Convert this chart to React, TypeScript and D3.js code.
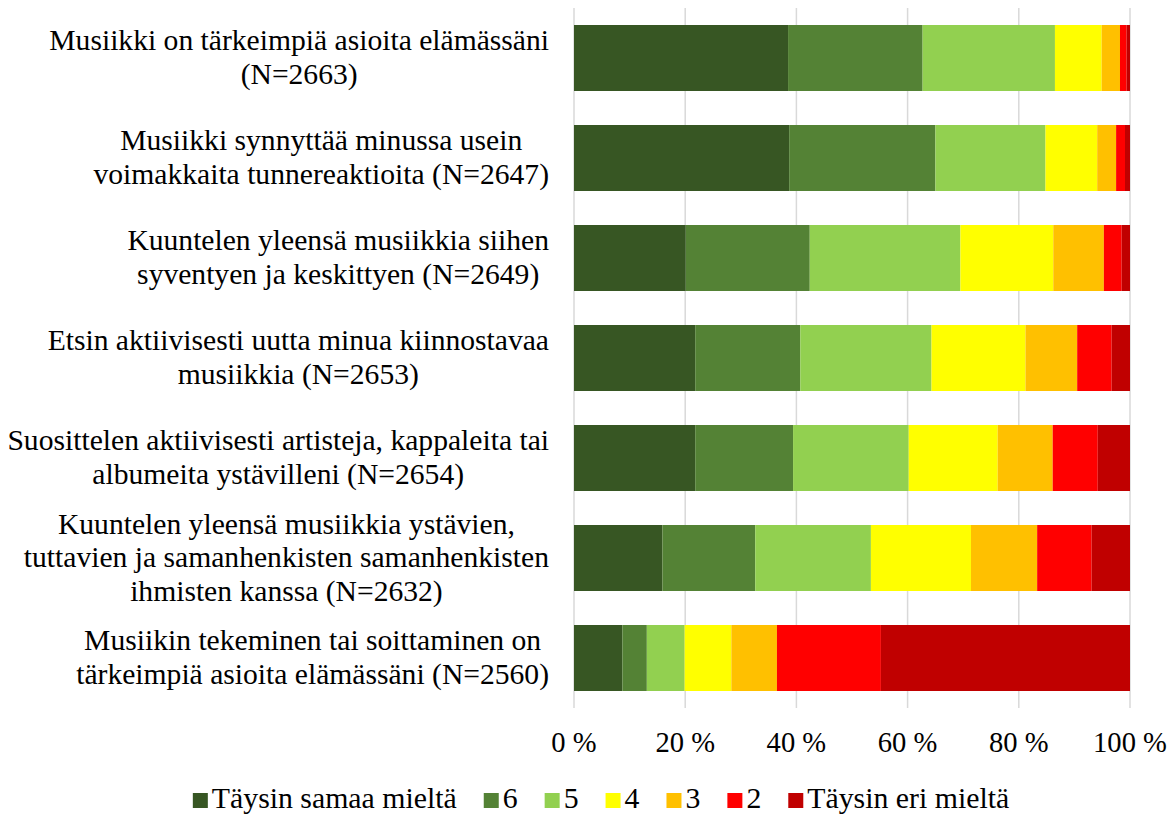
import React, { useEffect, useRef } from "react";
import * as d3 from "d3";

const categoryLines: string[][] = [
  ["Musiikki on tärkeimpiä asioita elämässäni", "(N=2663)"],
  ["Musiikki synnyttää minussa usein", "voimakkaita tunnereaktioita (N=2647)"],
  ["Kuuntelen yleensä musiikkia siihen", "syventyen ja keskittyen (N=2649)"],
  ["Etsin aktiivisesti uutta minua kiinnostavaa", "musiikkia (N=2653)"],
  ["Suosittelen aktiivisesti artisteja, kappaleita tai", "albumeita ystävilleni (N=2654)"],
  ["Kuuntelen yleensä musiikkia ystävien,", "tuttavien ja samanhenkisten samanhenkisten", "ihmisten kanssa (N=2632)"],
  ["Musiikin tekeminen tai soittaminen on", "tärkeimpiä asioita elämässäni (N=2560)"],
];

const seriesNames = ["Täysin samaa mieltä", "6", "5", "4", "3", "2", "Täysin eri mieltä"];
const seriesColors = ["#375623", "#548235", "#92D050", "#FFFF00", "#FFC000", "#FF0000", "#C00000"];

const taysinSamaa = [38.5, 38.7, 20.1, 21.8, 21.8, 15.9, 8.7];
const six = [24.2, 26.3, 22.3, 18.9, 17.6, 16.7, 4.4];
const five = [23.8, 19.8, 27.1, 23.6, 20.8, 20.8, 6.8];
const four = [8.4, 9.3, 16.7, 16.9, 16.0, 18.0, 8.4];
const three = [3.3, 3.4, 9.1, 9.3, 9.9, 11.9, 8.2];
const two = [1.2, 1.6, 3.2, 6.2, 8.1, 9.8, 18.7];
const taysinEri = [0.6, 0.9, 1.5, 3.3, 5.8, 6.9, 44.8];

const tickValues = [0, 20, 40, 60, 80, 100];
const tickLabels = ["0 %", "20 %", "40 %", "60 %", "80 %", "100 %"];

const FONT = '"Liberation Serif", "Times New Roman", serif';

export default function App() {
  const ref = useRef<SVGSVGElement | null>(null);

  useEffect(() => {
    const svg = d3.select(ref.current);
    svg.selectAll("*").remove();

    const seriesData = [taysinSamaa, six, five, four, three, two, taysinEri];
    const rows = categoryLines.map((_, i) => {
      const r: any = { idx: i };
      seriesNames.forEach((n, s) => (r[n] = seriesData[s][i]));
      return r;
    });
    const stacked = d3.stack<any>().keys(seriesNames).offset(d3.stackOffsetExpand)(rows);

    const x = d3.scaleLinear().domain([0, 1]).range([574, 1130]);
    const y = d3
      .scaleBand<number>()
      .domain(categoryLines.map((_, i) => i))
      .range([8, 708])
      .paddingInner(0.34)
      .paddingOuter(0.17);

    svg
      .append("g")
      .selectAll("line")
      .data(tickValues)
      .join("line")
      .attr("x1", (d) => x(d / 100))
      .attr("x2", (d) => x(d / 100))
      .attr("y1", 8)
      .attr("y2", 708)
      .attr("stroke", "#d9d9d9")
      .attr("stroke-width", 1.5);

    const g = svg.append("g");
    stacked.forEach((layer, s) => {
      g.append("g")
        .attr("fill", seriesColors[s])
        .selectAll("rect")
        .data(layer)
        .join("rect")
        .attr("x", (d) => x(d[0]))
        .attr("width", (d) => Math.max(0, x(d[1]) - x(d[0])))
        .attr("y", (d: any) => y(d.data.idx) as number)
        .attr("height", y.bandwidth());
    });

    const labelSize = 29.6;
    const lineH = 33.5;
    const lg = svg
      .append("g")
      .style("font-family", FONT)
      .style("font-size", labelSize + "px")
      .attr("fill", "#000");
    categoryLines.forEach((lines, i) => {
      const grp = lg.append("g");
      const texts = lines.map((t) => grp.append("text").text(t));
      const widths = texts.map((t) => (t.node() as SVGTextElement).getComputedTextLength());
      const maxW = Math.max(...widths);
      const cx = 549 - maxW / 2;
      const cy = (y(i) as number) + y.bandwidth() / 2;
      const first = cy - ((lines.length - 1) / 2) * lineH + 28 * 0.33;
      texts.forEach((t, k) => {
        t.attr("x", cx).attr("y", first + k * lineH).attr("text-anchor", "middle");
      });
    });

    svg
      .append("g")
      .style("font-family", FONT)
      .style("font-size", "28.6px")
      .selectAll("text")
      .data(tickValues)
      .join("text")
      .attr("x", (d) => x(d / 100))
      .attr("y", 752)
      .attr("text-anchor", "middle")
      .text((_, i) => tickLabels[i]);

    const legSize = 29.8;
    const leg = svg.append("g").style("font-family", FONT).style("font-size", legSize + "px");
    const items = seriesNames.map((n, s) => {
      const item = leg.append("g");
      item.append("rect").attr("width", 15).attr("height", 15).attr("y", 793).attr("fill", seriesColors[s]);
      const t = item.append("text").attr("y", 808).text(n);
      const w = (t.node() as SVGTextElement).getComputedTextLength();
      return { item, t, w };
    });
    const gap = 27;
    const total = items.reduce((a, it) => a + 15 + 4 + it.w, 0) + gap * (items.length - 1);
    let cur = 601 - total / 2;
    items.forEach((it) => {
      it.item.select("rect").attr("x", cur);
      it.t.attr("x", cur + 19);
      cur += 19 + it.w + gap;
    });
  }, []);

  return (
    <svg
      ref={ref}
      width={1176}
      height={816}
      style={{ position: "absolute", left: 0, top: 0, background: "#fff", display: "block" }}
    />
  );
}
